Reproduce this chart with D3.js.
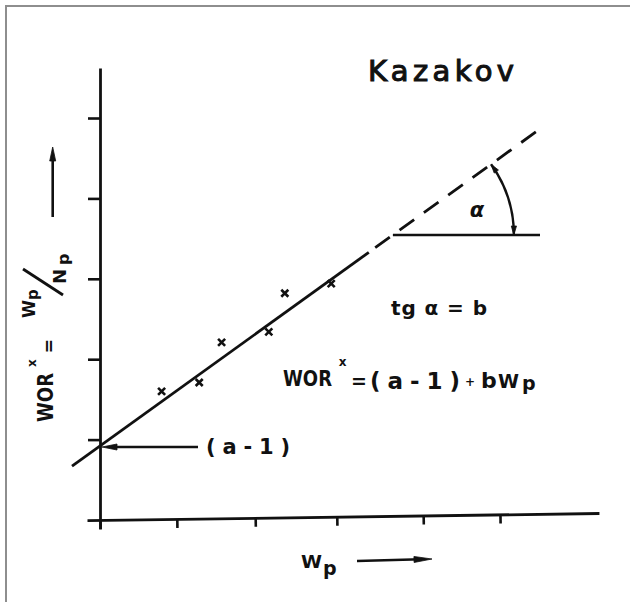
<!DOCTYPE html>
<html>
<head>
<meta charset="utf-8">
<script src="https://cdn.jsdelivr.net/npm/d3@7"></script>
<style>
  html, body { margin: 0; padding: 0; background: #fff; }
  svg { display: block; }
  text { font-family: "DejaVu Sans", sans-serif; font-weight: bold; fill: #111; }
  text.title { font-weight: normal; stroke: #111; stroke-width: 1.1; }
</style>
</head>
<body>
<svg id="chart" width="630" height="602"></svg>
<script>
// Kazakov plot: WOR* = Wp/Np against cumulative water production Wp.

// Tick positions along each axis (unlabelled, hand-spaced)
const xTicks = [0, 0.96, 1.94, 2.96, 4.04, 5];
const yTicks = [1, 2, 3, 4, 5];

// Observed points
const obsWp  = [0.77, 1.24, 1.52, 2.11, 2.31, 2.89];
const obsWor = [1.60, 1.71, 2.21, 2.34, 2.82, 2.94];

// Fitted straight line WOR* = (a-1) + b*Wp
const aMinus1 = 0.92;
const b = 0.717;
const solidSpan  = [-0.35, 3.36];
const dashedSpan = [3.44, 5.52];

// Horizontal reference used to show the angle alpha
const refLevel = 3.545;
const refEnd = 5.5;

const ink = "#111";
const svg = d3.select("#chart");

// outer frame
svg.append("path")
  .attr("d", "M6,602V6H630")
  .attr("fill", "none")
  .attr("stroke", "#8e8e8e")
  .attr("stroke-width", 2);

const x = d3.scaleLinear().domain([-0.1625, 6.2375]).range([87, 599]);
const y = d3.scaleLinear().domain([-0.112, 5.622]).range([529, 68]);

// axes
const gx = svg.append("g")
  .attr("transform", `translate(0,${y(0)}) rotate(-0.8,${x(0)},0)`)
  .call(d3.axisBottom(x).tickValues(xTicks).tickSize(9).tickSizeOuter(0).tickFormat(""));
const gy = svg.append("g")
  .attr("transform", `translate(${x(0)},0)`)
  .call(d3.axisLeft(y).tickValues(yTicks).tickSize(12).tickSizeOuter(0).tickFormat(""));
[gx, gy].forEach(g => {
  g.select(".domain").attr("stroke", ink).attr("stroke-width", 2.8);
  g.selectAll(".tick line").attr("stroke", ink).attr("stroke-width", 2.6);
});

// fitted line: solid over the data, dashed as extrapolation
const fit = v => aMinus1 + b * v;
const line = d3.line().x(d => x(d)).y(d => y(fit(d)));
svg.append("path").attr("d", line(solidSpan))
  .attr("fill", "none").attr("stroke", ink).attr("stroke-width", 2.8);
svg.append("path").attr("d", line(dashedSpan))
  .attr("fill", "none").attr("stroke", ink).attr("stroke-width", 2.8)
  .attr("stroke-dasharray", "18 12");

// horizontal reference line from the intersection
const xCross = (refLevel - aMinus1) / b;
svg.append("path")
  .attr("d", d3.line()([[x(xCross), y(refLevel)], [x(refEnd), y(refLevel)]]))
  .attr("stroke", ink).attr("stroke-width", 2.6);

// arrow helper: shaft plus filled head with its tip at (x2,y2)
function arrow(x1, y1, x2, y2, len, half, w) {
  const dx = x2 - x1, dy = y2 - y1, L = Math.hypot(dx, dy);
  const ux = dx / L, uy = dy / L;
  svg.append("path")
    .attr("d", `M${x1},${y1}L${x2 - ux * len * 0.6},${y2 - uy * len * 0.6}`)
    .attr("stroke", ink).attr("stroke-width", w || 2.6).attr("fill", "none");
  head(x2, y2, ux, uy, len, half);
}
function head(tx, ty, ux, uy, len, half) {
  const bx = tx - ux * len, by = ty - uy * len;
  svg.append("path")
    .attr("d", `M${tx},${ty}L${bx - uy * half},${by + ux * half}L${bx + uy * half},${by - ux * half}Z`)
    .attr("fill", ink).attr("stroke", ink).attr("stroke-width", 0.8);
}

// angle alpha between the fitted line and the horizontal
const cx = x(xCross), cy = y(refLevel);
const theta = -Math.atan2(y(fit(1)) - y(fit(0)), x(1) - x(0)); // pixel-space inclination
const r = 121;
const arcPath = d3.path();
arcPath.arc(cx, cy, r, -theta, 0);
svg.append("path").attr("d", arcPath.toString())
  .attr("fill", "none").attr("stroke", ink).attr("stroke-width", 2.4);
head(cx + r * Math.cos(-theta), cy + r * Math.sin(-theta), Math.sin(-theta), -Math.cos(-theta), 9, 2.6);
head(cx + r, cy, 0, 1, 9, 2.6);
svg.append("text").attr("x", 477).attr("y", 217)
  .attr("text-anchor", "middle").attr("font-size", 21).attr("font-style", "italic")
  .text("α");

// observed points
svg.selectAll(".pt")
  .data(d3.zip(obsWp, obsWor))
  .join("path")
  .attr("class", "pt")
  .attr("transform", d => `translate(${x(d[0])},${y(d[1])})`)
  .attr("d", d3.symbol(d3.symbolX, 34))
  .attr("fill", "none").attr("stroke", ink).attr("stroke-width", 2.6);

// text helper
function label(px, py, str, size, opts) {
  const t = svg.append("text").attr("x", px).attr("y", py).attr("font-size", size).text(str);
  if (opts) Object.entries(opts).forEach(([k, v]) => t.attr(k, v));
  return t;
}

// title
label(368, 81, "Kazakov", 29, { class: "title", textLength: 146, lengthAdjust: "spacing" });

// slope note
label(391, 315, "tg α = b", 20, { textLength: 96, lengthAdjust: "spacing" });

// model equation
label(283, 386, "WOR", 21, { textLength: 49, lengthAdjust: "spacingAndGlyphs" });
label(342.5, 366, "x", 12, { "text-anchor": "middle" });
label(359, 388, "=", 19, { "text-anchor": "middle" });
label(370, 389, "(a-1)", 23, { textLength: 90, lengthAdjust: "spacing" });
label(470, 386, "+", 12, { "text-anchor": "middle" });
label(481, 388, "b", 22);
label(498, 388, "W", 20, { textLength: 21, lengthAdjust: "spacingAndGlyphs" });
label(522, 390, "p", 19);

// intercept annotation
arrow(198, 447, 102, 447, 15, 3);
label(206, 454, "(a-1)", 21, { textLength: 84, lengthAdjust: "spacing" });

// x-axis title and direction arrow
label(301, 568, "W", 18, { textLength: 21, lengthAdjust: "spacingAndGlyphs" });
label(323, 575, "p", 19);
arrow(357, 561, 432, 559, 18, 3);

// y-axis title (reads upwards) and direction arrow
const yl = svg.append("g").attr("transform", "rotate(-90)");
function ylab(u, v, str, size, opts) {
  const t = yl.append("text").attr("x", u).attr("y", v).attr("font-size", size).text(str);
  if (opts) Object.entries(opts).forEach(([k, val]) => t.attr(k, val));
  return t;
}
ylab(-422, 53, "WOR", 21, { textLength: 49, lengthAdjust: "spacingAndGlyphs" });
ylab(-363, 36, "x", 12, { "text-anchor": "middle" });
ylab(-346, 55, "=", 17, { "text-anchor": "middle" });
ylab(-318, 35, "W", 18, { textLength: 18, lengthAdjust: "spacingAndGlyphs" });
ylab(-300, 38, "p", 15);
ylab(-284, 66, "N", 18);
ylab(-265, 69, "p", 16);
svg.append("path").attr("d", "M23,269L63,295")
  .attr("stroke", ink).attr("stroke-width", 2.8);
arrow(52.7, 217, 52.7, 147, 14, 3);
</script>
</body>
</html>
